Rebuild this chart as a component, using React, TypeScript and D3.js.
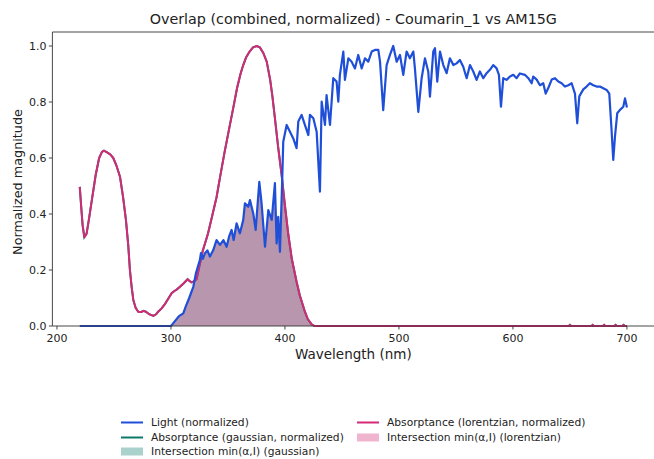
import React from "react";
import * as d3 from "d3";

const W = 654;
const H = 459;

const lightWl = [
  220, 300, 301, 304, 307, 310.8, 313, 316, 319.6, 322, 325.4, 326.3, 328, 329.8, 332, 334.2, 337.1, 340, 343, 346,
  348.8, 351, 353.2, 355, 357.6, 360.5, 363.4, 364.9, 367.8, 369.3, 372.2, 374.3, 377.5, 379.5, 382.5, 385.4, 388.4,
  391.2, 392.7, 394.1, 395.6, 397.6, 398.5, 401.5, 404.4, 407.3, 410.2, 411.7, 414.6, 417.5, 420.5, 421.9, 424.9,
  427.8, 430.7, 432.2, 435.1, 436.5, 439.5, 442.4, 445.3, 446.8, 448.2, 451.2, 452.6, 455.6, 458.5, 461.4, 464.3,
  467.3, 470.2, 473.1, 476.1, 479, 481.9, 483.4, 486.2, 489.2, 492.1, 495, 498, 500.9, 503.8, 506.7, 509.6, 512.6,
  514, 517, 519.9, 522.8, 525.7, 527.2, 530.1, 531.6, 533.6, 536, 538.9, 541.8, 544.7, 547.7, 550.6, 553.5, 556.4,
  559.4, 562.3, 565.2, 568.1, 571, 574, 576.9, 579.8, 582.7, 585.7, 587.7, 589.5, 591.5, 594.4, 597.4, 600.3, 603.2,
  606.1, 610.5, 613.5, 616.4, 617.8, 620.8, 623.7, 626.6, 628.7, 631, 634, 636.9, 639.8, 642.7, 645.6, 648.6, 651.5,
  654.4, 656.4, 658.2, 661.7, 664.6, 667.5, 670.5, 673.4, 676.3, 679.2, 682.2, 684.5, 686.5, 688, 689.5, 691.5,
  693.9, 696.8, 698.3, 700,
];
const lightVal = [
  0, 0, 0.005, 0.02, 0.035, 0.045, 0.07, 0.1, 0.14, 0.19, 0.236, 0.26, 0.24, 0.26, 0.27, 0.248, 0.271, 0.307, 0.29,
  0.307, 0.283, 0.32, 0.343, 0.307, 0.367, 0.331, 0.379, 0.438, 0.426, 0.45, 0.402, 0.343, 0.515, 0.438, 0.283,
  0.414, 0.379, 0.51, 0.295, 0.39, 0.265, 0.521, 0.658, 0.718, 0.694, 0.67, 0.635, 0.73, 0.754, 0.718, 0.682,
  0.754, 0.742, 0.694, 0.48, 0.801, 0.718, 0.825, 0.718, 0.885, 0.873, 0.801, 0.897, 0.98, 0.879, 0.956, 0.944,
  0.92, 0.968, 0.92, 0.956, 0.944, 0.98, 0.986, 0.986, 0.944, 0.771, 0.932, 0.968, 1.0, 0.944, 0.968, 0.897, 0.98,
  0.956, 0.98, 0.92, 0.765, 0.885, 0.956, 0.909, 0.819, 0.98, 0.992, 0.873, 0.98, 0.932, 0.903, 0.956, 0.932,
  0.938, 0.95, 0.926, 0.885, 0.932, 0.909, 0.879, 0.909, 0.885, 0.903, 0.915, 0.932, 0.92, 0.897, 0.783, 0.885,
  0.879, 0.891, 0.897, 0.885, 0.902, 0.897, 0.885, 0.867, 0.891, 0.88, 0.86, 0.867, 0.83, 0.85, 0.88, 0.885, 0.873,
  0.867, 0.855, 0.86, 0.867, 0.83, 0.724, 0.82, 0.845, 0.855, 0.867, 0.86, 0.855, 0.855, 0.849, 0.843, 0.83, 0.7,
  0.593, 0.676, 0.76, 0.772, 0.783, 0.813, 0.78,
];

const absWl = [
  220, 221, 222.5, 224, 226, 228, 231, 234, 237, 239.5, 241.2, 244, 247, 249.4, 252, 255.3, 258, 260.5, 262.5, 264,
  265.5, 267, 269, 271.3, 274, 276, 278, 281, 284.5, 287, 289, 291.8, 295, 298, 300.6, 303, 305, 307.9, 311, 314.6,
  316.5, 318, 320.5, 322.5, 325, 328, 332.5, 336, 340, 343, 347, 351.8, 354.7, 358, 361, 363.4, 366, 369, 372,
  375.2, 378, 381, 384, 387, 389, 391.2, 394, 397.1, 400, 403, 406, 410.2, 413, 417.5, 420, 423.4, 426, 649, 650,
  651, 669, 670, 671, 679, 680, 681, 689, 690, 691, 696, 697, 698, 700,
];
const absVal = [
  0.497, 0.44, 0.36, 0.317, 0.33, 0.38, 0.46, 0.54, 0.6, 0.622, 0.626, 0.62, 0.612, 0.6, 0.575, 0.533, 0.46, 0.379,
  0.29, 0.2, 0.14, 0.093, 0.065, 0.051, 0.05, 0.054, 0.051, 0.042, 0.036, 0.042, 0.052, 0.063, 0.08, 0.1, 0.117,
  0.125, 0.13, 0.14, 0.152, 0.167, 0.16, 0.156, 0.16, 0.168, 0.215, 0.27, 0.33, 0.39, 0.46, 0.53, 0.62, 0.72, 0.78,
  0.85, 0.9, 0.932, 0.96, 0.98, 0.995, 1.0, 0.995, 0.975, 0.944, 0.88, 0.82, 0.742, 0.64, 0.539, 0.43, 0.325, 0.24,
  0.158, 0.11, 0.051, 0.025, 0.006, 0, 0, 0.004, 0, 0, 0.004, 0, 0, 0.004, 0, 0, 0.004, 0, 0, 0.004, 0, 0,
];

const xTicks = [200, 300, 400, 500, 600, 700];
const yTicks = [0, 0.2, 0.4, 0.6, 0.8, 1.0];

const legendLabels = [
  "Light (normalized)",
  "Absorptance (gaussian, normalized)",
  "Intersection min(α,I) (gaussian)",
  "Absorptance (lorentzian, normalized)",
  "Intersection min(α,I) (lorentzian)",
];

const C_LIGHT = "#1f4fd8";
const C_LOR = "#d42976";
const C_GAU = "#0b7a6a";

function interp(xs: number[], ys: number[], x: number) {
  if (x <= xs[0]) return ys[0];
  if (x >= xs[xs.length - 1]) return ys[ys.length - 1];
  const i = d3.bisectRight(xs, x);
  const x0 = xs[i - 1], x1 = xs[i];
  const t = (x - x0) / (x1 - x0);
  return ys[i - 1] + t * (ys[i] - ys[i - 1]);
}

export default function App() {
  const x = d3.scaleLinear().domain([196, 724]).range([52.4, 654.3]);
  const y = d3.scaleLinear().domain([0, 1.05]).range([326, 32]);

  const light = lightWl.map((w, i) => [w, lightVal[i]] as [number, number]);
  const abs = absWl.map((w, i) => [w, absVal[i]] as [number, number]);

  const grid = Array.from(new Set([...lightWl, ...absWl])).sort((a, b) => a - b);
  const inter = grid.map((w) => [w, Math.min(interp(lightWl, lightVal, w), interp(absWl, absVal, w))] as [number, number]);

  const line = d3.line<[number, number]>().x((d) => x(d[0])).y((d) => y(d[1]));
  const area = d3
    .area<[number, number]>()
    .x((d) => x(d[0]))
    .y0(y(0))
    .y1((d) => y(d[1]));

  const font = "DejaVu Sans, sans-serif";
  const left = 52.4, top = 32, bottom = 326, right = 654.3;

  const legendRows = [
    { col: 0, row: 0, kind: "line", color: C_LIGHT, label: legendLabels[0] },
    { col: 0, row: 1, kind: "line", color: C_GAU, label: legendLabels[1] },
    { col: 0, row: 2, kind: "patch", color: C_GAU, label: legendLabels[2] },
    { col: 1, row: 0, kind: "line", color: C_LOR, label: legendLabels[3] },
    { col: 1, row: 1, kind: "patch", color: C_LOR, label: legendLabels[4] },
  ];
  const colX = [121, 357];
  const rowY = [422.5, 437.5, 451.5];

  return (
    <svg
      width={W}
      height={H}
      style={{ position: "absolute", left: 0, top: 0, background: "#fff" }}
      fontFamily={font}
    >
      <rect x={0} y={0} width={W} height={H} fill="#fff" />
      <path d={area(inter) || ""} fill={C_GAU} fillOpacity={0.35} />
      <path d={area(inter) || ""} fill={C_LOR} fillOpacity={0.35} />
      <path d={line(abs) || ""} fill="none" stroke={C_GAU} strokeWidth={2} />
      <path d={line(abs) || ""} fill="none" stroke={C_LOR} strokeWidth={2} strokeLinejoin="round" />
      <path d={line(light) || ""} fill="none" stroke={C_LIGHT} strokeWidth={2.2} strokeLinejoin="round" />

      <line x1={left} y1={top} x2={left} y2={bottom} stroke="#333" strokeWidth={0.9} />
      <line x1={left} y1={bottom} x2={right} y2={bottom} stroke="#333" strokeWidth={0.9} />
      <line x1={left} y1={top} x2={right} y2={top} stroke="#333" strokeWidth={0.9} />

      {xTicks.map((t) => (
        <g key={t}>
          <line x1={x(t)} x2={x(t)} y1={bottom} y2={bottom + 3.5} stroke="#333" strokeWidth={0.9} />
          <text x={x(t)} y={bottom + 15.5} fontSize={11} textAnchor="middle" fill="#222">
            {t}
          </text>
        </g>
      ))}
      {yTicks.map((t) => (
        <g key={t}>
          <line x1={left - 3.5} x2={left} y1={y(t)} y2={y(t)} stroke="#333" strokeWidth={0.9} />
          <text x={left - 6} y={y(t) + 4} fontSize={11} textAnchor="end" fill="#222">
            {t.toFixed(1)}
          </text>
        </g>
      ))}

      <text x={(left + right) / 2} y={24} fontSize={14.3} textAnchor="middle" fill="#222">
        Overlap (combined, normalized) - Coumarin_1 vs AM15G
      </text>
      <text x={(left + right) / 2} y={358.5} fontSize={13.5} textAnchor="middle" fill="#222">
        Wavelength (nm)
      </text>
      <text
        transform={`translate(22, ${(top + bottom) / 2 + 3}) rotate(-90)`}
        fontSize={12.8}
        textAnchor="middle"
        fill="#222"
      >
        Normalized magnitude
      </text>

      {legendRows.map((r, i) => (
        <g key={i}>
          {r.kind === "line" ? (
            <line x1={colX[r.col]} x2={colX[r.col] + 22} y1={rowY[r.row]} y2={rowY[r.row]} stroke={r.color} strokeWidth={2} />
          ) : (
            <rect x={colX[r.col]} y={rowY[r.row] - 4} width={22} height={8} fill={r.color} fillOpacity={0.35} />
          )}
          <text x={colX[r.col] + 30} y={rowY[r.row] + 3.8} fontSize={10.7} fill="#222">
            {r.label}
          </text>
        </g>
      ))}
    </svg>
  );
}
